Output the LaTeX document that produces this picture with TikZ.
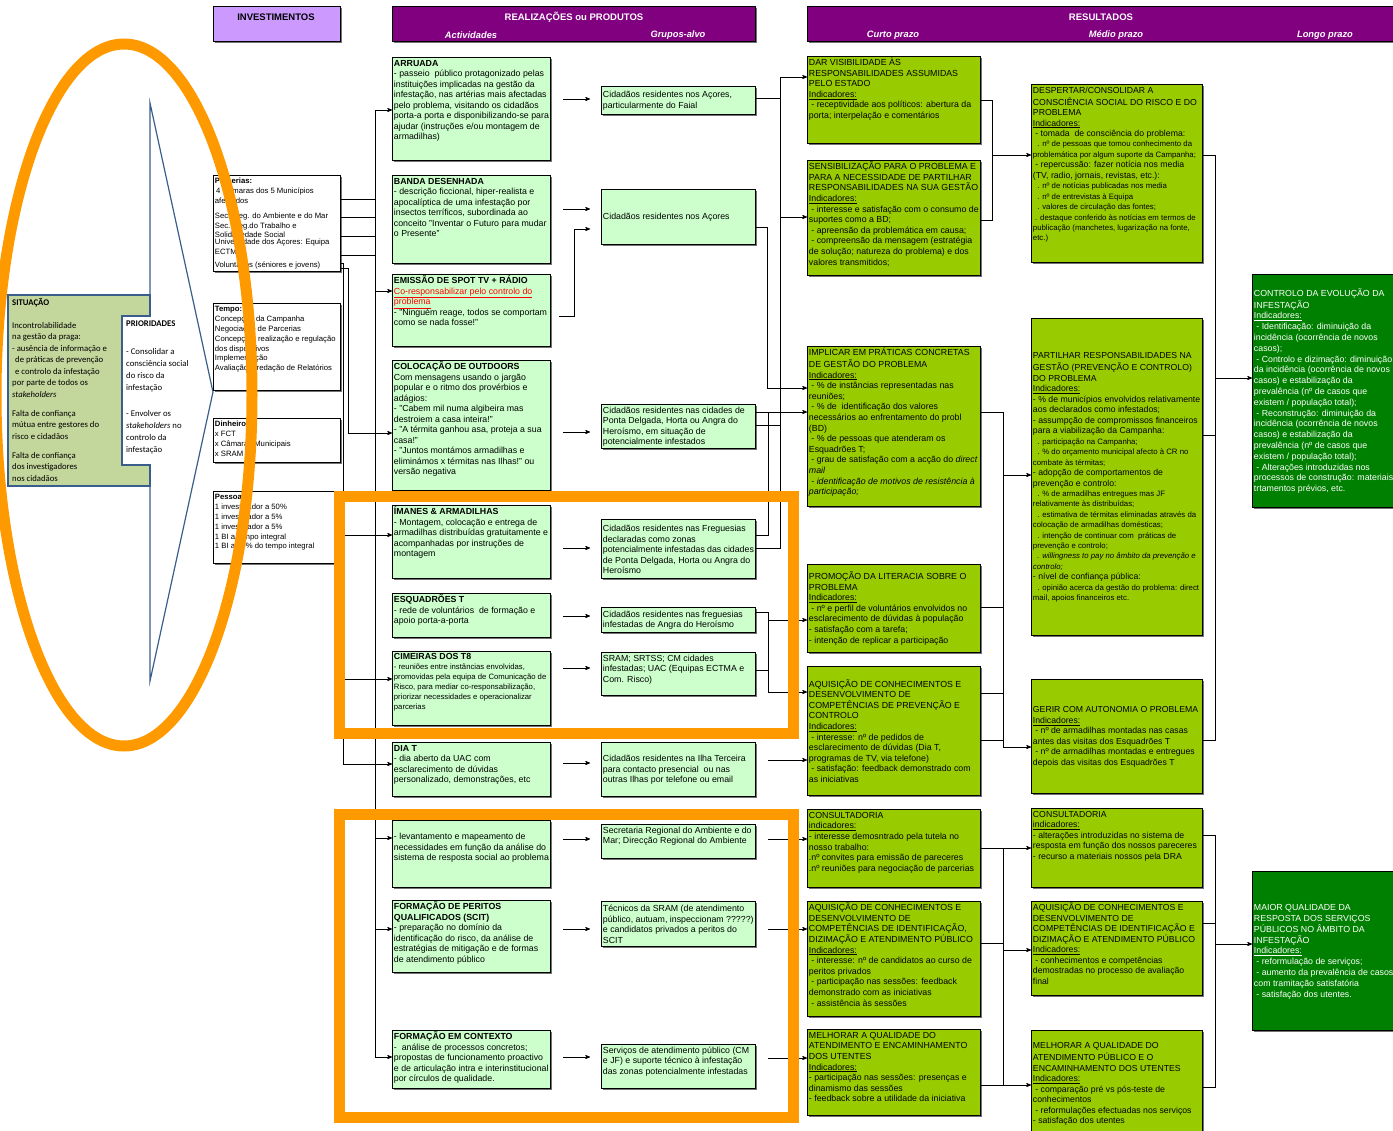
\documentclass[tikz,border=0pt]{standalone}
\usepackage{fontspec}
\setmainfont{Liberation Sans}
\newfontfamily\calibri{Carlito}
\usetikzlibrary{arrows,positioning,shadows}
\definecolor{actgreen}{HTML}{CCFFCC}
\definecolor{resgreen}{HTML}{99CC00}
\definecolor{longgreen}{HTML}{008000}
\definecolor{hdrpurple}{HTML}{800080}
\definecolor{hdrlilac}{HTML}{CC99FF}
\definecolor{situgreen}{HTML}{C3D69B}
\definecolor{arrowblue}{HTML}{3A5E8C}
\definecolor{hiorange}{HTML}{FF9900}
\newcommand\bx[4][t]{\parbox[t][#3pt][#1]{#2pt}{\raggedright\hyphenpenalty=10000\strut #4}}
\newcommand\ind{\underline{Indicadores:}}
\newcommand\sm{\fontsize{7.8}{10.4}\selectfont}

\begin{document}
\begin{tikzpicture}[x=1pt,y=-1pt,->,>=stealth',
  box/.style={draw, line width=0.9pt, anchor=north west, inner sep=1.5pt,
    drop shadow={shadow xshift=1.2pt, shadow yshift=-1.2pt, fill=black!55, opacity=1}},
  hdr/.style={box, fill=hdrpurple},
  hdrtxt/.style={font=\bfseries\fontsize{9.5}{11}\selectfont},
  subhdr/.style={text=white, font=\bfseries\itshape\fontsize{9.3}{11}\selectfont},
  actbox/.style={box, fill=actgreen, font=\fontsize{8.8}{10.5}\selectfont},
  smallact/.style={actbox, font=\fontsize{7.7}{10}\selectfont},
  resbox/.style={box, fill=resgreen, font=\fontsize{8.8}{10.6}\selectfont},
  medbox/.style={resbox, font=\fontsize{8.7}{10.5}\selectfont},
  longbox/.style={box, fill=longgreen, text=white, font=\fontsize{8.8}{10.8}\selectfont},
  invbox/.style={box, fill=white, font=\fontsize{7.7}{9.8}\selectfont},
  link/.style={-, line width=0.7pt},
  arr/.style={->, line width=0.7pt},
  ring/.style={-, draw=hiorange, line width=11pt}]
\useasboundingbox (0,0) rectangle (1393,1131);

% headers
\node[box, fill=hdrlilac, minimum width=127pt, minimum height=35pt] (invest) at (213,6) {};
\node[hdr, minimum width=363pt, minimum height=35pt] (prod) at (392,6) {};
\node[hdr, minimum width=600pt, minimum height=35pt] (result) at (807,6) {};
\node[hdrtxt] (tinvest) at (276,17) {INVESTIMENTOS};
\node[hdrtxt, text=white] (tprod) at (574,17) {REALIZAÇÕES ou PRODUTOS};
\node[hdrtxt, text=white] (tresult) at (1101,17) {RESULTADOS};
\node[subhdr] (hact) at (471,35) {Actividades};
\node[subhdr] (hgrp) at (678,35) {Grupos-alvo};
\node[subhdr] (hshort) at (893,35) {Curto prazo};
\node[subhdr] (hmed) at (1116,35) {Médio prazo};
\node[subhdr] (hlong) at (1325,35) {Longo prazo};

% situacao / prioridades
\draw[-, draw=arrowblue, line width=1.2pt] (150,295) -- (150,103) -- (213,392) -- (150,681) -- (150,486);
\draw[-, draw=arrowblue, line width=1.2pt, fill=situgreen]
  (8,295) -- (150,295) -- (150,316) -- (122,316) -- (122,465) -- (150,465) -- (150,486) -- (8,486) -- cycle;
\node[anchor=north west, align=left, inner sep=0pt, font=\calibri\fontsize{8.7}{11.5}\selectfont] (situ) at (12,298)
  {\textbf{SITUAÇÃO}\\[11.5pt]
   Incontrolabilidade\\ na gestão da praga:\\ - ausência de informação e\\
   \hspace*{3pt}de práticas de prevenção\\ \hspace*{3pt}e controlo da infestação\\
   por parte de todos os\\ \textit{stakeholders}\\[7.5pt]
   Falta de confiança\\ mútua  entre gestores do\\ risco  e cidadãos\\[7.5pt]
   Falta de confiança\\ dos investigadores\\ nos cidadãos};
\node[anchor=north west, align=left, inner sep=0pt, font=\calibri\fontsize{8.7}{11.8}\selectfont] (prior) at (126,321)
  {\textbf{PRIORIDADES}\\[16pt]
   - Consolidar a\\ consciência social\\ do risco da\\ infestação\\[15pt]
   - Envolver os\\ \textit{stakeholders} no\\ controlo  da\\ infestação};

% investimentos
\node[invbox] (parc) at (213,175) {\bx{124}{93}{\textbf{Parcerias:}\\
  \,4 Câmaras dos 5 Municípios\\ afectados\\[5pt]
  Sec. Reg. do Ambiente e do Mar\\ Sec. Reg.do Trabalho e\\ Solidariedade Social\\[-3pt]
  Universidade dos Açores: Equipa\\ ECTMA\\[3pt] Voluntários (séniores e jovens)}};
\node[invbox] (tempo) at (213,303) {\bx{124}{84}{\textbf{Tempo:}\\
  Concepção da Campanha\\ Negociação de Parcerias\\ Concepção, realização e regulação\\
  dos dispositivos\\ Implementação\\ Avaliação e redação de Relatórios}};
\node[invbox] (money) at (213,418) {\bx{124}{41}{\textbf{Dinheiro:}\\ x FCT\\ x Câmaras Municipais\\ x SRAM}};
\node[invbox] (staff) at (213,491) {\bx{124}{69}{\textbf{Pessoal:}\\
  1 investigador a 50\%\\ 1 investigador a 5\%\\ 1 investigador a 5\%\\
  1 BI a tempo integral\\ 1 BI a 50\% do tempo integral}};

% actividades
\node[actbox] (arruada) at (392,57) {\bx{155}{100}{\textbf{ARRUADA}\\
  - passeio\ \ público protagonizado pelas\\ instituições implicadas na gestão da\\
  infestação, nas artérias mais afectadas\\ pelo problema, visitando os cidadãos\\
  porta-a porta e disponibilizando-se para\\ ajudar (instruções e/ou montagem de\\ armadilhas)}};
\node[actbox] (banda) at (392,175) {\bx{155}{85}{\textbf{BANDA DESENHADA}\\
  - descrição ficcional, hiper-realista e\\ apocalíptica de uma infestação por\\
  insectos terríficos, subordinada ao\\ conceito "Inventar o Futuro para mudar\\ o Presente"}};
\node[actbox] (spot) at (392,274) {\bx{155}{69}{\textbf{EMISSÃO DE SPOT TV + RÁDIO}\\
  \textcolor{red}{\underline{Co-responsabilizar pelo controlo do}}\\ \textcolor{red}{\underline{problema}}\\
  - "Ninguém reage, todos se comportam\\ como se nada fosse!"}};
\node[actbox] (outdoor) at (392,360) {\bx{155}{127}{\textbf{COLOCAÇÃO DE OUTDOORS}\\
  Com mensagens usando o jargão\\ popular e o ritmo dos provérbios e\\ adágios:\\
  - "Cabem mil numa algibeira mas\\ destroiem a casa inteira!"\\
  - "A térmita ganhou asa, proteja a sua\\ casa!"\\
  - "Juntos montámos armadilhas e\\ eliminámos x térmitas nas Ilhas!" ou\\ versão negativa}};
\node[actbox] (imanes) at (392,505) {\bx{155}{70}{\textbf{ÍMANES \& ARMADILHAS}\\
  - Montagem, colocação e entrega de\\ armadilhas distribuídas gratuitamente e\\
  acompanhadas por instruções de\\ montagem}};
\node[actbox] (esquad) at (392,593) {\bx{155}{41}{\textbf{ESQUADRÕES T}\\
  - rede de voluntários\ \ de formação e\\ apoio porta-a-porta}};
\node[smallact] (cimeira) at (392,651) {\bx{155}{71}{{\fontsize{8.8}{10}\selectfont\textbf{CIMEIRAS DOS T8}}\\
  - reuniões entre instâncias envolvidas,\\ promovidas pela equipa de Comunicação de\\
  Risco, para mediar co-responsabilização,\\ priorizar necessidades e operacionalizar\\ parcerias}};
\node[actbox] (diat) at (392,742) {\bx{155}{51}{\textbf{DIA T}\\
  - dia aberto da UAC com\\ esclarecimento de dúvidas\\ personalizado, demonstrações, etc}};
\node[actbox] (levant) at (392,820) {\bx{155}{64}{\\
  - levantamento e mapeamento de\\ necessidades em função da análise do\\ sistema de resposta social ao problema}};
\node[actbox] (peritos) at (392,900) {\bx{155}{69}{\textbf{FORMAÇÃO DE PERITOS}\\ \textbf{QUALIFICADOS (SCIT)}\\
  - preparação no domínio da\\ identificação do risco, da análise de\\
  estratégias de mitigação e de formas\\ de atendimento público}};
\node[actbox] (context) at (392,1030) {\bx{155}{55}{\textbf{FORMAÇÃO EM CONTEXTO}\\
  -\ \ análise de processos concretos;\\ propostas de funcionamento proactivo\\
  e de articulação intra e interinstitucional\\ por círculos de qualidade.}};

% grupos-alvo
\node[actbox] (faial) at (601,86) {\bx[c]{151}{25}{Cidadãos residentes nos Açores,\\ particularmente do Faial}};
\node[actbox] (acores) at (601,189) {\bx[c]{151}{52}{Cidadãos residentes nos Açores}};
\node[actbox] (cidades) at (601,404) {\bx[c]{151}{41}{Cidadãos residentes nas cidades de\\
  Ponta Delgada, Horta ou Angra do\\ Heroísmo, em situação de\\ potencialmente infestados}};
\node[actbox] (fregs) at (601,519) {\bx[c]{151}{56}{Cidadãos residentes nas Freguesias\\
  declaradas como zonas\\ potencialmente infestadas das cidades\\ de Ponta Delgada, Horta ou Angra do\\ Heroísmo}};
\node[actbox] (angra) at (601,607) {\bx[c]{151}{22}{Cidadãos residentes nas freguesias\\ infestadas de Angra do Heroísmo}};
\node[actbox] (sram) at (601,652) {\bx{151}{40}{SRAM; SRTSS; CM cidades\\ infestadas; UAC (Equipas ECTMA e\\ Com. Risco)}};
\node[actbox] (terceira) at (601,742) {\bx[c]{151}{51}{Cidadãos residentes na Ilha Terceira\\
  para contacto presencial\ \ ou nas\\ outras Ilhas por telefone ou email}};
\node[actbox] (secreg) at (601,824) {\bx{151}{31}{Secretaria Regional do Ambiente e do\\ Mar; Direcção Regional do Ambiente}};
\node[actbox] (tecnicos) at (601,901) {\bx[c]{151}{42}{Técnicos da SRAM (de atendimento\\
  público, autuam, inspeccionam ?????)\\ e candidatos privados a peritos do\\ SCIT}};
\node[actbox] (servicos) at (601,1044) {\bx{151}{41}{Serviços de atendimento público (CM\\
  e JF) e suporte técnico à infestação\\ das zonas potencialmente infestadas}};

% resultados de curto prazo
\node[resbox] (visib) at (807,56) {\bx{170}{84}{DAR VISIBILIDADE ÀS\\ RESPONSABILIDADES ASSUMIDAS\\ PELO ESTADO\\ \ind\\
  \ - receptividade aos políticos: abertura da\\ porta; interpelação e comentários}};
\node[resbox] (sensib) at (807,160) {\bx{170}{112}{SENSIBILIZAÇÃO PARA O PROBLEMA E\\
  PARA A NECESSIDADE DE PARTILHAR\\ RESPONSABILIDADES NA SUA GESTÃO\\ \ind\\
  \ - interesse e satisfação com o consumo de\\ suportes como a BD;\\
  \ - apreensão da problemática em causa;\\ \ - compreensão da mensagem (estratégia\\
  de solução; natureza do problema) e dos\\ valores transmitidos;}};
\node[resbox] (implic) at (807,346) {\bx{170}{157}{IMPLICAR EM PRÁTICAS CONCRETAS\\
  DE GESTÃO DO PROBLEMA\\ \ind\\ \ - \% de instâncias representadas nas\\ reuniões;\\
  \ - \% de\ \ identificação dos valores\\ necessários ao enfrentamento do probl\\ (BD)\\
  \ - \% de pessoas que atenderam os\\ Esquadrões T;\\
  \ - grau de satisfação com a acção do \textit{direct}\\ \textit{mail}\\
  \ \textit{- identificação de motivos de resistência à}\\ \textit{participação;}}};
\node[resbox] (liter) at (807,564) {\bx[c]{170}{85}{PROMOÇÃO DA LITERACIA SOBRE O\\ PROBLEMA\\ \ind\\
  \ - nº e perfil de voluntários envolvidos no\\ esclarecimento de dúvidas à população\\
  - satisfação com a tarefa;\\ - intenção de replicar a participação}};
\node[resbox] (aqprev) at (807,666) {\bx[c]{170}{126}{AQUISIÇÃO DE CONHECIMENTOS E\\
  DESENVOLVIMENTO DE\\ COMPETÊNCIAS DE PREVENÇÃO E\\ CONTROLO\\ \ind\\
  \ - interesse: nº de pedidos de\\ esclarecimento de dúvidas (Dia T,\\ programas de TV, via telefone)\\
  \ - satisfação: feedback demonstrado com\\ as iniciativas}};
\node[resbox] (consA) at (807,809) {\bx{170}{75}{CONSULTADORIA\\ \underline{indicadores:}\\
  - interesse demosntrado pela tutela no\\ nosso trabalho:\\
  .nº convites para emissão de pareceres\\ .nº reuniões para negociação de parcerias}};
\node[resbox] (aqident) at (807,901) {\bx{170}{112}{AQUISIÇÃO DE CONHECIMENTOS E\\
  DESENVOLVIMENTO DE\\ COMPETÊNCIAS DE IDENTIFICAÇÃO,\\ DIZIMAÇÃO E ATENDIMENTO PÚBLICO\\ \ind\\
  \ - interesse: nº de candidatos ao curso de\\ peritos privados\\
  \ - participação nas sessões: feedback\\ demonstrado com as iniciativas\\ \ - assistência às sessões}};
\node[resbox] (melhA) at (807,1029) {\bx{170}{83}{MELHORAR A QUALIDADE DO\\
  ATENDIMENTO E ENCAMINHAMENTO\\ DOS UTENTES\\ \ind\\
  - participação nas sessões: presenças e\\ dinamismo das sessões\\ - feedback sobre a utilidade da iniciativa}};

% resultados de medio prazo
\node[medbox] (desp) at (1031,84) {\bx{168}{175}{DESPERTAR/CONSOLIDAR A\\
  CONSCIÊNCIA SOCIAL DO RISCO E DO\\ PROBLEMA\\ \ind\\ \ - tomada\ \ de consciência do problema:\\
  {\sm\ \ . nº de pessoas que tomou conhecimento da\\ problemática por algum suporte da Campanha;}\\
  \ - repercussão: fazer notícia nos media\\ (TV, radio, jornais, revistas, etc.):\\
  {\sm\ \ . nº de notícias publicadas nos media\\ \ \ . nº de entrevistas à Equipa\\
  \ \ . valores de circulação das fontes;\\ \ . destaque conferido às notícias em termos de\\
  publicação (manchetes, lugarização na fonte,\\ etc.)}}};
\node[medbox] (partil) at (1031,318) {\bx[c]{168}{314}{PARTILHAR RESPONSABILIDADES NA\\
  GESTÃO (PREVENÇÃO E CONTROLO)\\ DO PROBLEMA\\ \ind\\
  - \% de municípios envolvidos relativamente\\ aos declarados como infestados;\\
  - assumpção de compromissos financeiros\\ para a viabilização da Campanha:\\
  {\sm\ \ . participação na Campanha;\\ \ \ . \% do orçamento municipal afecto à CR no\\ combate às térmitas;}\\
  - adopção de comportamentos de\\ prevenção e controlo:\\
  {\sm\ \ . \% de armadilhas entregues mas JF\\ relativamente às distribuídas;\\
  \ \ . estimativa de térmitas eliminadas através da\\ colocação de armadilhas domésticas;\\
  \ \ . intenção de continuar com\ \ práticas de\\ prevenção e controlo;\\
  \ \ \textit{. willingness to pay no âmbito da prevenção e}\\ \textit{controlo;}}\\
  - nível de confiança pública:\\
  {\sm\ \ . opinião acerca da gestão do problema: direct\\ mail, apoios financeiros etc.}}};
\node[medbox] (gerir) at (1031,679) {\bx[c]{168}{111}{GERIR COM AUTONOMIA O PROBLEMA\\ \ind\\
  \ - nº de armadilhas montadas nas casas\\ antes das visitas dos Esquadrões T\\
  \ - nº de armadilhas montadas e entregues\\ depois das visitas dos Esquadrões T}};
\node[medbox] (consB) at (1031,808) {\bx{168}{76}{CONSULTADORIA\\ \underline{indicadores:}\\
  - alterações introduzidas no sistema de\\ resposta em função dos nossos pareceres\\
  - recurso a materiais nossos pela DRA}};
\node[medbox] (aqfinal) at (1031,901) {\bx{168}{91}{AQUISIÇÃO DE CONHECIMENTOS E\\
  DESENVOLVIMENTO DE\\ COMPETÊNCIAS DE IDENTIFICAÇÃO E\\ DIZIMAÇÃO E ATENDIMENTO PÚBLICO\\ \ind\\
  \ - conhecimentos e competências\\ demostradas no processo de avaliação\\ final}};
\node[medbox] (melhB) at (1031,1030) {\bx[c]{168}{103}{MELHORAR A QUALIDADE DO\\
  ATENDIMENTO PÚBLICO E O\\ ENCAMINHAMENTO DOS UTENTES\\ \ind\\
  \ - comparação pré vs pós-teste de\\ conhecimentos\\ \ - reformulações efectuadas nos serviços\\
  - satisfação dos utentes}};

% resultados de longo prazo
\node[longbox] (evol) at (1252,274) {\bx[c]{145}{230}{CONTROLO DA EVOLUÇÃO DA\\ INFESTAÇÃO\\ \ind\\
  \ - Identificação: diminuição da\\ incidência (ocorrência de novos\\ casos);\\
  \ - Controlo e dizimação: diminuição\\ da incidência (ocorrência de novos\\ casos) e estabilização da\\
  prevalência (nº de casos que\\ existem / população total);\\
  \ - Reconstrução: diminuição da\\ incidência (ocorrência de novos\\ casos) e estabilização da\\
  prevalência (nº de casos que\\ existem / população total);\\
  \ - Alterações introduzidas nos\\ processos de construção: materiais,\\ trtamentos prévios, etc.}};
\node[longbox] (quality) at (1252,871) {\bx[c]{145}{156}{MAIOR QUALIDADE DA\\
  RESPOSTA DOS SERVIÇOS\\ PÚBLICOS NO ÂMBITO DA\\ INFESTAÇÃO\\ \ind\\
  \ - reformulação de serviços;\\ \ - aumento da prevalência de casos\\ com tramitação satisfatória\\
  \ - satisfação dos utentes.}};

% investimentos -> actividades
\coordinate (busL) at (375,110);
\coordinate (busM) at (343,263);
\coordinate (busN) at (348,268);
\draw[link] (busL) -- (busL |- 0,1057);
\foreach \y in {199,217,236,255} \draw[link] (parc.east |- 0,\y) -- (busL |- 0,\y);
\draw[link] (parc.east |- busM) -- (busM) -- (busM |- 0,764);
\draw[link] (parc.east |- busN) -- (busN) -- (busN |- 0,433);
\foreach \n/\y in {arruada/110,spot/291,levant/838,peritos/929,context/1057}
  \draw[arr] (busL |- 0,\y) -- (\n.west |- 0,\y);
\draw[arr] (busN |- 0,433) -- (outdoor.west |- 0,433);
\foreach \n/\y in {imanes/535,cimeira/679,diat/764}
  \draw[arr] (busM |- 0,\y) -- (\n.west |- 0,\y);

% actividades -> grupos-alvo
\foreach \a/\g/\y in {arruada/faial/99,banda/acores/209,outdoor/cidades/432,imanes/fregs/548,esquad/angra/616,
    cimeira/sram/668,diat/terceira/763,levant/secreg/839,peritos/tecnicos/929,context/servicos/1057}
  \draw[arr, shorten <=12pt, shorten >=11pt] (\a.east |- 0,\y) -- (\g.west |- 0,\y);
\draw[arr] ([xshift=8pt]spot.east |- 0,316) -- ++(15,0) |- ([xshift=-11pt]acores.west |- 0,229);

% grupos-alvo -> curto prazo
\coordinate (gA) at (780,77);
\coordinate (gB) at (767,227);
\coordinate (gC) at (768,412);
\draw[link] (faial.east |- 0,98) -- (gA |- 0,98);
\draw[link] (gA) -- (gA |- 0,548) -- (fregs.east |- 0,548);
\draw[arr] (gA) -- (visib.west |- gA);
\draw[arr] (gA |- 0,217) -- (sensib.west |- 0,217);
\draw[link] (acores.east |- gB) -- (gB) -- (gB |- 0,388);
\draw[arr] (gB |- 0,388) -- (implic.west |- 0,388);
\draw[link] (cidades.east |- 0,425) -- (gA |- 0,425);
\draw[arr] (cidades.east |- gC) -- (implic.west |- gC);
\draw[link] (fregs.east |- 0,535) -- (gC |- 0,535) -- (gC);
\draw[link] (angra.east |- 0,612) -- (gC |- 0,612) -- (gC |- 0,692);
\draw[link] (sram.east |- 0,670) -- (gC |- 0,670);
\draw[arr] (gC |- 0,620) -- (liter.west |- 0,620);
\draw[arr] (gC |- 0,692) -- (aqprev.west |- 0,692);
\foreach \g/\r/\y in {terceira/aqprev/760,secreg/consA/839,tecnicos/aqident/929,servicos/melhA/1058}
  \draw[arr, shorten <=12pt] (\g.east |- 0,\y) -- (\r.west |- 0,\y);

% curto -> medio prazo
\coordinate (sA) at (992,100);
\coordinate (sB) at (1003,412);
\coordinate (sC) at (1003,848);
\draw[link] (visib.east |- sA) -- (sA) -- (sA |- 0,220) -- (sensib.east |- 0,220);
\draw[arr] (sA |- 0,155) -- (desp.west |- 0,155);
\draw[link] (implic.east |- sB) -- (sB) -- (sB |- 0,747);
\draw[link] (liter.east |- 0,607) -- (sB |- 0,607);
\draw[link] (aqprev.east |- 0,693) -- (sB |- 0,693);
\draw[link] (aqprev.east |- 0,740) -- (sB |- 0,740);
\draw[arr] (sB |- 0,475) -- (partil.west |- 0,475);
\draw[arr] (sB |- 0,747) -- (gerir.west |- 0,747);
\draw[link] (consA.east |- sC) -- (sC) -- (sC |- 0,1085) -- (melhA.east |- 0,1085);
\draw[link] (aqident.east |- 0,943) -- (sC |- 0,943);
\draw[arr] (sC) -- (consB.west |- sC);
\draw[arr] (sC |- 0,950) -- (aqfinal.west |- 0,950);
\draw[arr] (sC |- 0,1085) -- (melhB.west |- 0,1085);

% medio -> longo prazo
\coordinate (lA) at (1215,155);
\coordinate (lB) at (1215,835);
\draw[link] (desp.east |- lA) -- (lA) -- (lA |- 0,740) -- (gerir.east |- 0,740);
\draw[link] (partil.east |- 0,435) -- (lA |- 0,435);
\draw[arr] (lA |- 0,378) -- (evol.west |- 0,378);
\draw[link] (consB.east |- lB) -- (lB) -- (lB |- 0,1087) -- (melhB.east |- 0,1087);
\draw[link] (aqfinal.east |- 0,923) -- (lB |- 0,923);
\draw[arr] (lB |- 0,944) -- (quality.west |- 0,944);

% destaques
\draw[ring] (124,395) ellipse (128 and 351);
\draw[ring] (339,497) rectangle (793,733);
\draw[ring] (339,814) rectangle (793,1117);
\end{tikzpicture}
\end{document}
